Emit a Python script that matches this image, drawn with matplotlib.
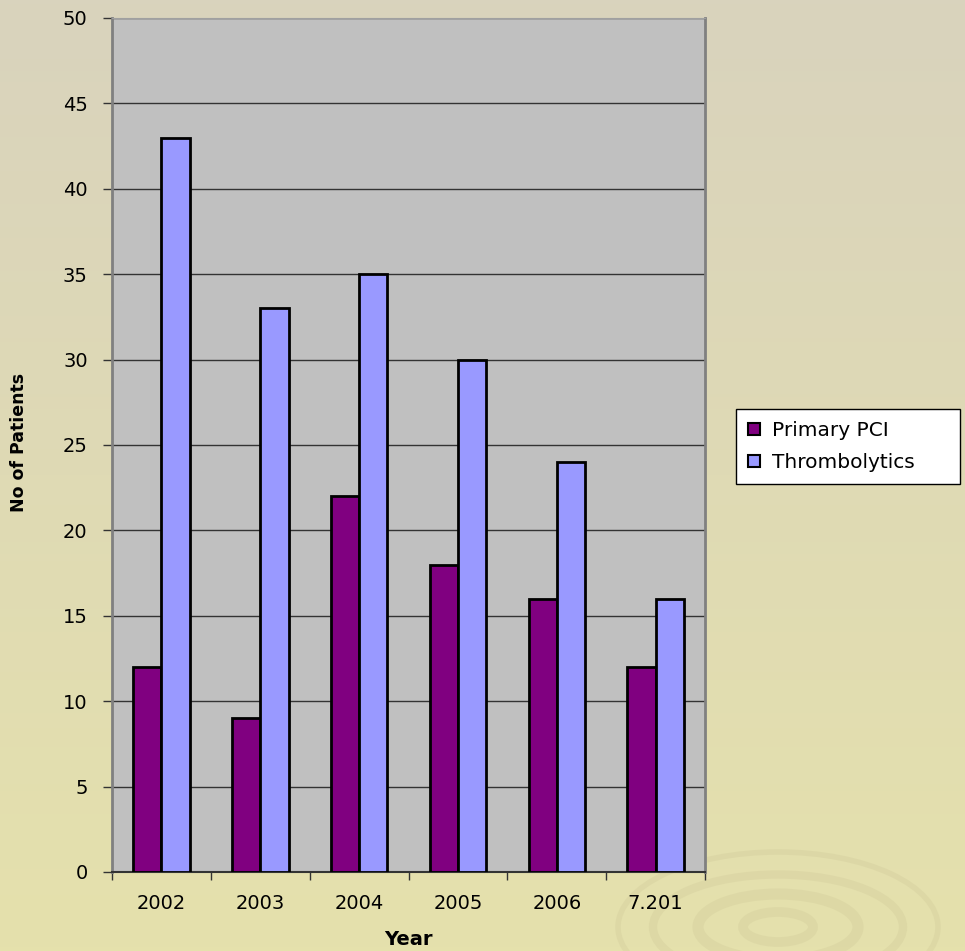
import numpy as np
import matplotlib
matplotlib.use('Agg')
import matplotlib.pyplot as plt
from matplotlib.patches import Ellipse

plt.rcParams['font.family'] = ['DejaVu Sans']

years = ['2002', '2003', '2004', '2005', '2006', '7.201']
primary_pci = [12, 9, 22, 18, 16, 12]
thrombolytics = [43, 33, 35, 30, 24, 16]

fig = plt.figure(figsize=(9.65, 9.51), dpi=100)

# slide background: vertical beige gradient with faint ripples
bg = fig.add_axes([0, 0, 1, 1], zorder=-10)
grad = np.linspace(0, 1, 256).reshape(-1, 1)
top = np.array([217, 211, 189]) / 255
bottom = np.array([229, 225, 172]) / 255
img = top + (bottom - top) * grad[..., None]
bg.imshow(img, aspect='auto', extent=[0, 965, 951, 0])
for w, h, lw in [(70, 30, 7), (160, 66, 8), (250, 105, 6), (320, 150, 4)]:
    bg.add_patch(Ellipse((778, 927), w, h, fill=False, ec=(0.76, 0.73, 0.55),
                         lw=lw, alpha=0.2))
bg.set_xlim(0, 965)
bg.set_ylim(951, 0)
bg.axis('off')

ax = fig.add_axes([0.1161, 0.0831, 0.6145, 0.898])
ax.set_facecolor('#C0C0C0')

x = np.arange(len(years))
w = 1 / 3.5
ax.bar(x - w / 2, primary_pci, w, color='#800080', edgecolor='black',
       linewidth=2, label='Primary PCI', zorder=3)
ax.bar(x + w / 2, thrombolytics, w, color='#9999FF', edgecolor='black',
       linewidth=2, label='Thrombolytics', zorder=3)

ax.set_xlim(-0.5, len(years) - 0.5)
ax.set_ylim(0, 50)
ax.set_yticks(np.arange(0, 51, 5))
ax.yaxis.grid(True, color='#333333', linewidth=1)
ax.set_axisbelow(True)

# category labels sit between the tick marks at group boundaries
ax.set_xticks(np.arange(-0.5, len(years)), minor=False)
ax.set_xticklabels([])
ax.set_xticks(x, minor=True)
ax.set_xticklabels(years, minor=True)
ax.tick_params(axis='x', which='minor', length=0, pad=16, labelsize=14)
ax.tick_params(axis='x', which='major', length=6, width=1, color='#333333')
ax.tick_params(axis='y', length=6.5, width=1, color='#333333', labelsize=14, pad=11)

for s in ['left', 'right']:
    ax.spines[s].set_color('#808080')
    ax.spines[s].set_linewidth(2)
ax.spines['top'].set_color('#A0A0A0')
ax.spines['bottom'].set_color('#333333')
ax.spines['bottom'].set_linewidth(1.5)

ax.set_xlabel('Year', fontsize=14, fontweight='bold', labelpad=12)
fig.text(0.020, 0.535, 'No of Patients', rotation=90, fontsize=12.5,
         fontweight='bold', ha='center', va='center')

leg = fig.legend(loc='upper left',
                 bbox_to_anchor=(736 / 965, 1 - 409 / 951, 224 / 965, 0),
                 mode='expand', fontsize=14.5,
                 frameon=True, fancybox=False, edgecolor='black', framealpha=1,
                 handlelength=0.6, handleheight=0.6, handletextpad=0.6,
                 borderpad=0.6, labelspacing=0.65, borderaxespad=0)
leg.get_frame().set_linewidth(1)
for p in leg.get_patches():
    p.set_linewidth(1.5)

fig.savefig('out.png', dpi=100)
